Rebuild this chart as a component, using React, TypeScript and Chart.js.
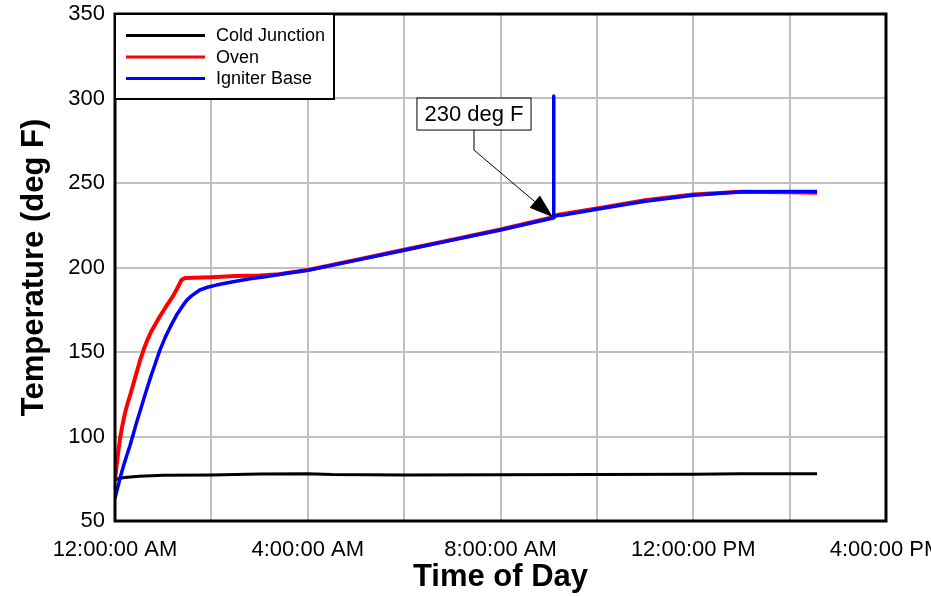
import React, { useEffect, useRef } from "react";
import { Chart, registerables } from "chart.js";

Chart.register(...registerables);

const FONT = '"Liberation Sans", Arial, Helvetica, sans-serif';

// X axis: hours since midnight
const xTickHours = [0, 4, 8, 12, 16];
const xTickLabels = ["12:00:00 AM", "4:00:00 AM", "8:00:00 AM", "12:00:00 PM", "4:00:00 PM"];
const yTickValues = [50, 100, 150, 200, 250, 300, 350];

const seriesNames = ["Cold Junction", "Oven", "Igniter Base"];
const seriesColors = ["#000000", "#ff0000", "#0000ff"];

const coldHours = [0, 0.08, 0.2, 0.5, 1, 2, 3, 4, 4.5, 6, 8, 10, 12, 13, 14.57];
const coldTemps = [74.3, 75.2, 75.8, 76.5, 77, 77.2, 77.8, 78, 77.5, 77.2, 77.3, 77.5, 77.6, 78, 78];

const ovenHours = [0, 0.03, 0.06, 0.1, 0.15, 0.2, 0.25, 0.31, 0.38, 0.45, 0.52, 0.59, 0.67, 0.75, 0.84, 0.93, 1.05, 1.18, 1.28, 1.38, 1.45, 2.0, 2.5, 3.0, 3.4, 4.0, 5.0, 6.0, 7.0, 8.0, 9.09, 9.2, 10.0, 11.0, 12.0, 13.0, 14.0, 14.57];
const ovenTemps = [74.3, 82, 89, 98, 106, 113, 118.5, 124, 131, 138, 145, 151, 157, 162, 166.5, 171, 176.5, 182, 187, 192.6, 193.8, 194.3, 195, 195.3, 196, 198.5, 204.5, 210.5, 216.5, 222.5, 229.8, 231.2, 235, 239.8, 243.2, 244.8, 244.6, 244.3];

const igniterHours = [0, 0.04, 0.08, 0.12, 0.17, 0.24, 0.31, 0.38, 0.45, 0.52, 0.59, 0.67, 0.75, 0.84, 0.93, 1.04, 1.15, 1.28, 1.42, 1.5, 1.6, 1.76, 1.92, 2.1, 2.45, 2.8, 3.15, 3.56, 4.0, 5.0, 6.0, 7.0, 8.0, 9.09, 9.1, 9.11, 9.3, 10.0, 11.0, 12.0, 13.0, 14.0, 14.57];
const igniterTemps = [63.5, 68, 72.5, 77, 82, 88.5, 94.5, 101.5, 108.5, 115, 121.6, 129, 136, 143.5, 151, 158.5, 165, 172, 178, 181, 183.5, 186.7, 188.3, 189.6, 191.6, 193.3, 194.6, 196.6, 198.3, 204.2, 210.2, 216.2, 222.2, 229.3, 301.5, 230.6, 231, 234.5, 239.2, 242.8, 244.8, 245, 245];

const calloutText = "230 deg F";
const calloutTarget = { h: 9.09, v: 229.8 };
const calloutCenter = { h: 7.45, v: 290.8 };

const toPoints = (xs: number[], ys: number[]) => xs.map((x, i) => ({ x, y: ys[i] }));

const overlayPlugin = {
  id: "overlay",
  afterDraw(chart: any) {
    const { ctx, chartArea: a, scales } = chart;
    ctx.save();
    // plot frame
    ctx.strokeStyle = "#000";
    ctx.lineWidth = 3;
    ctx.strokeRect(a.left, a.top, a.right - a.left, a.bottom - a.top);

    // legend
    const lx = a.left, ly = a.top, lw = 219, lh = 85;
    ctx.fillStyle = "#fff";
    ctx.fillRect(lx, ly, lw, lh);
    ctx.lineWidth = 2;
    ctx.strokeStyle = "#000";
    ctx.strokeRect(lx, ly, lw, lh);
    ctx.font = `18px ${FONT}`;
    ctx.textBaseline = "middle";
    ctx.textAlign = "left";
    chart.data.datasets.forEach((ds: any, i: number) => {
      const y = ly + 21.5 + i * 21.5;
      ctx.strokeStyle = ds.borderColor;
      ctx.lineWidth = 3;
      ctx.beginPath();
      ctx.moveTo(lx + 11, y);
      ctx.lineTo(lx + 90, y);
      ctx.stroke();
      ctx.fillStyle = "#000";
      ctx.fillText(ds.label, lx + 101, y + 1);
    });

    // callout
    const tx = scales.x.getPixelForValue(calloutTarget.h);
    const ty = scales.y.getPixelForValue(calloutTarget.v);
    const cx = scales.x.getPixelForValue(calloutCenter.h);
    const cy = scales.y.getPixelForValue(calloutCenter.v);
    ctx.font = `22px ${FONT}`;
    const tw = ctx.measureText(calloutText).width;
    const bw = tw + 15, bh = 32;
    ctx.fillStyle = "#fff";
    ctx.fillRect(cx - bw / 2, cy - bh / 2, bw, bh);
    ctx.lineWidth = 1;
    ctx.strokeStyle = "#000";
    ctx.strokeRect(cx - bw / 2, cy - bh / 2, bw, bh);
    ctx.fillStyle = "#000";
    ctx.textAlign = "center";
    ctx.fillText(calloutText, cx, cy + 1);

    const sy = cy + bh / 2;
    const ky = sy + 20;
    const dx = tx - cx, dy = ty - ky;
    const len = Math.hypot(dx, dy);
    const ux = dx / len, uy = dy / len;
    const aLen = 24, aHalf = 8;
    const bx = tx - ux * aLen, by = ty - uy * aLen;
    ctx.beginPath();
    ctx.moveTo(cx, sy);
    ctx.lineTo(cx, ky);
    ctx.lineTo(bx, by);
    ctx.stroke();
    ctx.beginPath();
    ctx.moveTo(tx, ty);
    ctx.lineTo(bx - uy * aHalf, by + ux * aHalf);
    ctx.lineTo(bx + uy * aHalf, by - ux * aHalf);
    ctx.closePath();
    ctx.fill();
    ctx.restore();
  },
};

export default function App() {
  const ref = useRef<HTMLCanvasElement | null>(null);
  useEffect(() => {
    if (!ref.current) return;
    const chart = new Chart(ref.current, {
      type: "line",
      data: {
        datasets: [
          { label: seriesNames[0], data: toPoints(coldHours, coldTemps), borderColor: seriesColors[0], borderWidth: 3, pointRadius: 0, tension: 0, order: 2 },
          { label: seriesNames[1], data: toPoints(ovenHours, ovenTemps), borderColor: seriesColors[1], borderWidth: 4, pointRadius: 0, tension: 0, borderJoinStyle: "round", order: 1 },
          { label: seriesNames[2], data: toPoints(igniterHours, igniterTemps), borderColor: seriesColors[2], borderWidth: 3.5, pointRadius: 0, tension: 0, borderJoinStyle: "round", order: 0 },
        ] as any,
      },
      options: {
        animation: false,
        responsive: false,
        devicePixelRatio: 1,
        layout: { padding: { left: 0, top: 14, right: 74, bottom: 0 } },
        plugins: { legend: { display: false }, tooltip: { enabled: false } },
        scales: {
          x: {
            type: "linear",
            min: 0,
            max: 16,
            afterFit: (s: any) => { s.height = 75; s.paddingTop = 0; s.paddingBottom = 0; },
            ticks: {
              stepSize: 2,
              autoSkip: false,
              maxRotation: 0,
              padding: 16,
              color: "#000",
              font: { family: FONT, size: 22 },
              callback: (v: any) => {
                const i = xTickHours.indexOf(Number(v));
                return i >= 0 ? xTickLabels[i] : "";
              },
            },
            grid: { color: "#c0c0c0", lineWidth: 2, drawTicks: false },
            border: { display: false },
            title: { display: true, text: "Time of Day", color: "#000", font: { family: FONT, size: 31, weight: "bold" }, padding: { top: 0, bottom: 0 } },
          },
          y: {
            min: 50,
            max: 350,
            afterFit: (s: any) => { s.width = 115; s.paddingTop = 0; s.paddingBottom = 0; },
            afterBuildTicks: (s: any) => { s.ticks = yTickValues.map((v) => ({ value: v })); },
            ticks: { padding: 10, color: "#000", font: { family: FONT, size: 22 } },
            grid: { color: "#c0c0c0", lineWidth: 2, drawTicks: false },
            border: { display: false },
            title: { display: true, text: "Temperature (deg F)", color: "#000", font: { family: FONT, size: 31, weight: "bold" }, padding: { top: 16, bottom: 0 } },
          },
        },
      } as any,
      plugins: [overlayPlugin],
    });
    return () => chart.destroy();
  }, []);
  return (
    <div style={{ position: "fixed", left: 0, top: 0, width: 931, height: 596, overflow: "hidden", background: "#fff" }}>
      <canvas ref={ref} width={960} height={596} style={{ display: "block" }} />
    </div>
  );
}
